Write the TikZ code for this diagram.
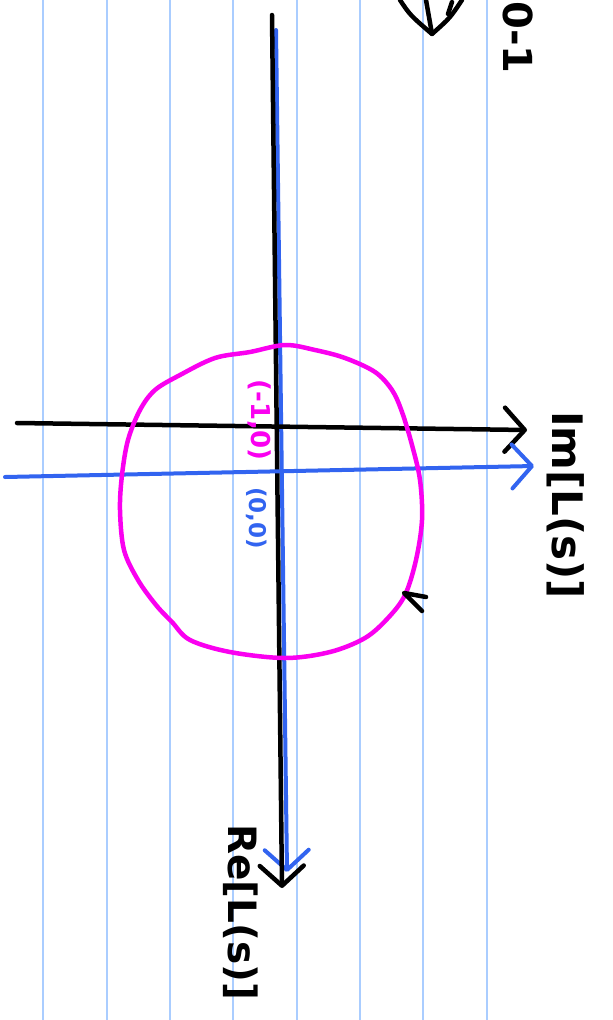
\documentclass[tikz,border=0pt]{standalone}
\usepackage{fontspec}
\setmainfont{DejaVu Sans}
\usetikzlibrary{arrows.meta}
\definecolor{gridblue}{RGB}{170,205,255}
\definecolor{penblue}{RGB}{50,100,240}
\definecolor{penmag}{RGB}{250,0,240}
\tikzset{
  gridline/.style={draw=gridblue, line width=1.6pt},
  blackpen/.style={draw=black, line width=4.5pt, line cap=round, line join=round},
  bluepen/.style={draw=penblue, line width=4pt, line cap=round, line join=round},
  magpen/.style={draw=penmag, line width=4.5pt, line cap=round, line join=round},
  barb/.style={-{Straight Barb[length=20pt,width=44pt,line cap=round,line join=round]}},
  hand/.style={inner sep=0pt, rotate=-90, font=\bfseries\fontsize{42}{44}\selectfont},
}
\begin{document}
\begin{tikzpicture}[x=1pt,y=-1pt]
\useasboundingbox[fill=white] (0,0) rectangle (613,1020);
% ruled paper
\foreach \gx in {43,107,170,233,297,360,423,487}
  \draw[gridline] (\gx,0) -- (\gx,1020);
% top partial marks
\coordinate (va) at (400,0);
\coordinate (vb) at (432,34);
\coordinate (vc) at (462,0);
\coordinate (vd) at (426,0);
\coordinate (ve) at (448,14);
\draw[blackpen] (va) .. controls (410,15) .. (vb) .. controls (450,18) .. (vc);
\draw[blackpen] (vd) -- (vb);
\draw[blackpen] (ve) -- (452,2);
\node[hand, font=\bfseries\fontsize{40}{42}\selectfont, text=black, anchor=west] (topl) at (518,1) {0-1};
% axes
\coordinate (reT) at (272,15);
\coordinate (reB) at (282,888);
\coordinate (reTb) at (276,30);
\coordinate (reBb) at (287,872);
\coordinate (imL) at (17,423);
\coordinate (imR) at (527,430);
\coordinate (imLb) at (5,477);
\coordinate (imRb) at (534,466);
\draw[bluepen, barb] (reTb) -- (reBb);
\draw[blackpen, barb] (reT) -- (reB);
\draw[blackpen, barb] (imL) -- (imR);
\draw[bluepen, barb] (imLb) -- (imRb);
% magenta contour
\draw[magpen] plot[smooth cycle, tension=0.55] coordinates {
 (285,345) (250,352) (215,358) (180,375) (155,390) (140,410) (128,440)
 (122,475) (120,510) (124,550) (138,580) (156,605) (172,622) (190,640)
 (230,652) (285,658) (330,652) (365,638) (388,618) (405,595) (416,560)
 (422,520) (420,480) (412,445) (402,412) (392,390) (375,372) (345,358) (315,350)};
% direction mark
\coordinate (dtip) at (404,593);
\coordinate (da) at (426,597);
\coordinate (db) at (422,611);
\draw[blackpen] (da) -- (dtip) -- (db);
% labels
\node[hand, font=\bfseries\fontsize{26}{28}\selectfont, text=penmag] (pm) at (260,420) {(-1,0)};
\node[hand, font=\bfseries\fontsize{23}{25}\selectfont, text=penblue] (pb) at (257,518) {(0,0)};
\node[hand, text=black] (im) at (566,505) {Im[L(s)]};
\node[hand, font=\bfseries\fontsize{39}{41}\selectfont, text=black] (re) at (241,912) {Re[L(s)]};
\end{tikzpicture}
\end{document}
